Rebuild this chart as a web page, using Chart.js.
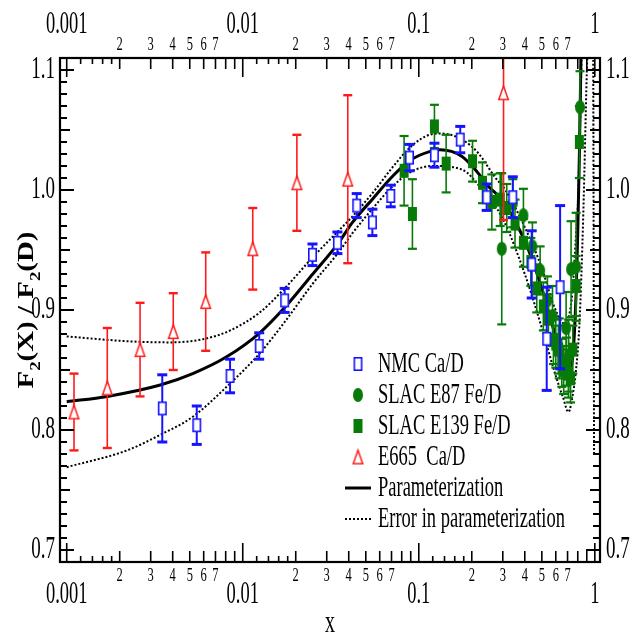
<!DOCTYPE html>
<html>
<head>
<meta charset="utf-8">
<title>F2(X)/F2(D)</title>
<script src="https://cdn.jsdelivr.net/npm/chart.js@4.4.1/dist/chart.umd.min.js"></script>
<style>
html,body{margin:0;padding:0;background:#fff;}
canvas{display:block;}
</style>
</head>
<body>
<canvas id="chart" width="634" height="635"></canvas>
<script>
// ---------------- data ----------------
const nmcX   = [0.00349, 0.00548, 0.00847, 0.0124, 0.0173, 0.0249, 0.0345, 0.0444, 0.0545, 0.0693, 0.0885, 0.1227, 0.172, 0.243, 0.342, 0.438, 0.533, 0.635];
const nmcY   = [0.818, 0.804, 0.845, 0.870, 0.908, 0.946, 0.956, 0.987, 0.973, 0.995, 1.027, 1.029, 1.042, 0.994, 0.994, 0.938, 0.876, 0.919];
const nmcErr = [0.028, 0.016, 0.014, 0.011, 0.010, 0.009, 0.009, 0.010, 0.011, 0.009, 0.011, 0.010, 0.011, 0.011, 0.017, 0.028, 0.043, 0.068];

const e87X   = [0.296, 0.342, 0.393, 0.442, 0.489, 0.538, 0.575, 0.628, 0.687, 0.710, 0.733, 0.783, 0.824];
const e87Y   = [0.951, 0.989, 0.979, 0.953, 0.933, 0.908, 0.895, 0.868, 0.885, 0.862, 0.934, 0.936, 1.069];
const e87Err = [0.063, 0.020, 0.022, 0.020, 0.020, 0.020, 0.025, 0.025, 0.030, 0.030, 0.040, 0.045, 0.030];

const e139X   = [0.0825, 0.092, 0.1227, 0.143, 0.202, 0.230, 0.260, 0.290, 0.316, 0.352, 0.393, 0.433, 0.468, 0.510, 0.545, 0.582, 0.600, 0.621, 0.649, 0.665, 0.690, 0.708, 0.728, 0.750, 0.783, 0.817];
const e139Y   = [1.016, 0.980, 1.053, 1.022, 1.024, 1.006, 0.990, 0.992, 0.985, 0.972, 0.956, 0.940, 0.918, 0.903, 0.893, 0.875, 0.872, 0.867, 0.856, 0.850, 0.857, 0.847, 0.843, 0.867, 0.920, 1.040];
const e139Err = [0.029, 0.029, 0.018, 0.024, 0.017, 0.017, 0.023, 0.022, 0.020, 0.020, 0.020, 0.020, 0.020, 0.020, 0.020, 0.020, 0.020, 0.020, 0.020, 0.020, 0.020, 0.020, 0.020, 0.020, 0.025, 0.030];

const e665X   = [0.0011, 0.0017, 0.00261, 0.00403, 0.00616, 0.0114, 0.0203, 0.0395, 0.303];
const e665Y   = [0.815, 0.835, 0.867, 0.882, 0.907, 0.951, 1.006, 1.009, 1.081];
const e665Err = [0.032, 0.050, 0.039, 0.032, 0.041, 0.034, 0.040, 0.070, 0.106];

const paramX = [0.001, 0.0017, 0.0034, 0.0052, 0.0081, 0.0125, 0.0173, 0.025, 0.035, 0.042, 0.055, 0.071, 0.09, 0.115, 0.132, 0.176, 0.209, 0.249, 0.296, 0.35, 0.42, 0.5, 0.58, 0.65, 0.70, 0.72, 0.745, 0.765, 0.783, 0.80, 0.817, 0.83, 0.84];
const paramY = [0.8236, 0.828, 0.8375, 0.847, 0.861, 0.881, 0.902, 0.930, 0.956, 0.973, 0.993, 1.0115, 1.025, 1.032, 1.0335, 1.028, 1.017, 1.003, 0.992, 0.975, 0.950, 0.918, 0.885, 0.862, 0.850, 0.849, 0.858, 0.880, 0.915, 0.965, 1.030, 1.090, 1.150];

const upperX = [0.001, 0.0022, 0.0039, 0.0061, 0.0085, 0.0125, 0.0173, 0.025, 0.035, 0.042, 0.055, 0.071, 0.09, 0.115, 0.135, 0.176, 0.217, 0.27, 0.31, 0.40, 0.50, 0.58, 0.65, 0.68, 0.72, 0.745, 0.78, 0.807, 0.836, 0.85];
const upperY = [0.878, 0.874, 0.873, 0.876, 0.883, 0.898, 0.918, 0.944, 0.966, 0.978, 0.998, 1.019, 1.036, 1.046, 1.047, 1.042, 1.031, 1.011, 1.000, 0.969, 0.935, 0.905, 0.890, 0.888, 0.898, 0.914, 0.960, 1.000, 1.094, 1.150];

const lowerX = [0.001, 0.0022, 0.0034, 0.0052, 0.0081, 0.0125, 0.0173, 0.025, 0.035, 0.042, 0.055, 0.071, 0.09, 0.12, 0.176, 0.23, 0.30, 0.40, 0.50, 0.60, 0.66, 0.708, 0.76, 0.776, 0.818, 0.86, 0.90, 0.93, 0.975, 0.99];
const lowerY = [0.769, 0.783, 0.796, 0.811, 0.836, 0.864, 0.890, 0.922, 0.948, 0.964, 0.985, 1.003, 1.015, 1.020, 1.017, 1.000, 0.976, 0.930, 0.885, 0.845, 0.827, 0.815, 0.835, 0.845, 0.889, 0.980, 1.097, 1.160, 1.160, 0.780];

// axis ticks / labels
const xDecades = [0.001, 0.01, 0.1, 1];
const xDecadeLabels = ['0.001', '0.01', '0.1', '1'];
const xSubTicks = [1.2, 1.4, 1.6, 1.8];
const xMinorTicks = [2, 3, 4, 5, 6, 7, 8, 9];
const xMinorLabels = ['2', '3', '4', '5', '6', '7'];
const yTickValues = [0.7, 0.8, 0.9, 1.0, 1.1];
const yTickLabels = ['0.7', '0.8', '0.9', '1.0', '1.1'];

const X_MIN = 0.000916, X_MAX = 1.07, Y_MIN = 0.69, Y_MAX = 1.11;

// ---------------- styling helpers ----------------
const SERIF = '"Liberation Serif","Times New Roman",Times,serif';
const BLUE = '#1414ff', GREEN = '#087a08', RED = '#ff1a1a';

function marker(kind, w, h, color, lw) {
  const pad = 2;
  const c = document.createElement('canvas');
  c.width = w + pad * 2; c.height = h + pad * 2;
  const g = c.getContext('2d');
  g.lineWidth = lw; g.strokeStyle = color; g.fillStyle = color;
  const cx = c.width / 2, cy = c.height / 2;
  if (kind === 'openRect') {
    g.fillStyle = '#fff'; g.fillRect(pad, pad, w, h);
    g.strokeRect(pad + lw / 2, pad + lw / 2, w - lw, h - lw);
  } else if (kind === 'fillRect') {
    g.fillRect(pad, pad, w, h);
  } else if (kind === 'ellipse') {
    g.beginPath(); g.ellipse(cx, cy, w / 2, h / 2, 0, 0, Math.PI * 2); g.fill();
  } else if (kind === 'openTri') {
    g.beginPath();
    g.moveTo(cx, pad + lw / 2); g.lineTo(pad + w - lw / 2, pad + h - lw / 2); g.lineTo(pad + lw / 2, pad + h - lw / 2); g.closePath();
    g.fillStyle = '#fff'; g.fill(); g.stroke();
  }
  return c;
}

const mkNMC  = marker('openRect', 9, 14, BLUE, 1.6);
const mkE87  = marker('ellipse', 10, 14, GREEN, 1);
const mkE139 = marker('fillRect', 9, 14, GREEN, 1);
const mkE665 = marker('openTri', 11, 15, RED, 1.5);

function pts(xs, ys) { return xs.map((x, i) => ({ x: x, y: ys[i] })); }

function sText(ctx, s, x, y, size, align, sy, weight) {
  ctx.save();
  ctx.translate(x, y);
  ctx.scale(1, sy);
  ctx.font = (weight || 'normal') + ' ' + size + 'px ' + SERIF;
  ctx.textAlign = align; ctx.textBaseline = 'middle';
  ctx.fillText(s, 0, 0);
  ctx.restore();
}
function seg(ctx, x1, y1, x2, y2) { ctx.beginPath(); ctx.moveTo(x1, y1); ctx.lineTo(x2, y2); ctx.stroke(); }

// ---------------- plugins ----------------
const errorBars = {
  id: 'errorBars',
  beforeDatasetDraw(chart, args) {
    const ds = chart.data.datasets[args.index];
    if (!ds.errors) return;
    const ctx = chart.ctx, a = chart.chartArea;
    const xs = chart.scales[args.meta.xAxisID], ys = chart.scales[args.meta.yAxisID];
    ctx.save();
    ctx.beginPath(); ctx.rect(a.left, a.top, a.right - a.left, a.bottom - a.top); ctx.clip();
    ctx.strokeStyle = ds.errColor;
    ds.data.forEach((p, i) => {
      const e = ds.errors[i];
      const px = xs.getPixelForValue(p.x);
      const yt = ys.getPixelForValue(p.y + e), yb = ys.getPixelForValue(p.y - e);
      ctx.lineWidth = ds.errWidth; seg(ctx, px, yt, px, yb);
      ctx.lineWidth = ds.capWidth;
      seg(ctx, px - ds.capHalf, yt, px + ds.capHalf, yt);
      seg(ctx, px - ds.capHalf, yb, px + ds.capHalf, yb);
    });
    ctx.restore();
  }
};

const frameAxes = {
  id: 'frameAxes',
  afterDraw(chart) {
    const ctx = chart.ctx, a = chart.chartArea, xs = chart.scales.x, ys = chart.scales.y;
    ctx.save();
    ctx.strokeStyle = '#000'; ctx.fillStyle = '#000';
    // x ticks (bottom + top, inward)
    ctx.lineWidth = 1.6;
    xDecades.forEach((d) => {
      const all = [[1, 19]].concat(xSubTicks.map(m => [m, 6])).concat(xMinorTicks.map(m => [m, 11]));
      all.forEach(([m, len]) => {
        const v = d * m;
        if (v < xs.min || v > xs.max) return;
        const px = xs.getPixelForValue(v);
        seg(ctx, px, a.bottom, px, a.bottom - len);
        seg(ctx, px, a.top, px, a.top + len);
      });
    });
    // y ticks (left + right, inward)
    ctx.lineWidth = 2;
    for (let k = Math.ceil(ys.min * 100 - 1e-6); k <= Math.floor(ys.max * 100 + 1e-6); k++) {
      const v = k / 100;
      const len = (k % 10 === 0) ? 14 : (k % 5 === 0 ? 10 : 7);
      const py = ys.getPixelForValue(v);
      seg(ctx, a.left, py, a.left + len, py);
      seg(ctx, a.right, py, a.right - len, py);
    }
    // frame
    ctx.lineWidth = 2.2;
    ctx.strokeRect(a.left, a.top, a.right - a.left, a.bottom - a.top);
    // x labels
    xDecades.forEach((d, i) => {
      const px = xs.getPixelForValue(d);
      sText(ctx, xDecadeLabels[i], px, a.bottom + 33, 18.5, 'center', 1.65);
      sText(ctx, xDecadeLabels[i], px, a.top - 33, 18.5, 'center', 1.65);
      xMinorLabels.forEach((lab) => {
        const v = d * Number(lab);
        if (v > xs.max) return;
        const qx = xs.getPixelForValue(v);
        sText(ctx, lab, qx, a.bottom + 14, 12.5, 'center', 1.5);
        sText(ctx, lab, qx, a.top - 13, 12.5, 'center', 1.5);
      });
    });
    // y labels
    yTickValues.forEach((v, i) => {
      const py = ys.getPixelForValue(v);
      sText(ctx, yTickLabels[i], a.left - 5, py, 19, 'right', 1.62);
      sText(ctx, yTickLabels[i], a.right + 6, py, 19, 'left', 1.62);
    });
    // x title
    sText(ctx, 'x', (a.left + a.right) / 2, 624, 20, 'center', 1.6);
    // y title, rotated, with subscripts
    const f = 23, sub = 15;
    const parts = [['F', f, 0], ['2', sub, 0.32], ['(X) / F', f, 0], ['2', sub, 0.32], ['(D)', f, 0]];
    ctx.save();
    let total = 0;
    parts.forEach(p => { ctx.font = 'bold ' + p[1] + 'px ' + SERIF; total += ctx.measureText(p[0]).width; });
    const target = 157, sx = target / total;
    ctx.translate(26, (a.top + a.bottom) / 2);
    ctx.rotate(-Math.PI / 2);
    ctx.scale(sx, 1);
    let cx = -total / 2;
    ctx.textBaseline = 'alphabetic'; ctx.textAlign = 'left';
    parts.forEach(p => {
      ctx.font = 'bold ' + p[1] + 'px ' + SERIF;
      ctx.fillText(p[0], cx, 7 + p[2] * f);
      cx += ctx.measureText(p[0]).width;
    });
    ctx.restore();
    ctx.restore();
  }
};

const innerLegend = {
  id: 'innerLegend',
  afterDraw(chart) {
    const ctx = chart.ctx;
    const items = chart.data.datasets.filter(d => d.legendRank !== undefined).sort((p, q) => p.legendRank - q.legendRank);
    const mx = 358, tx = 378, y0 = 364, dy = 31;
    ctx.save();
    items.forEach((d, i) => {
      const y = y0 + i * dy;
      if (d.pointStyle && typeof d.pointStyle === 'object') {
        ctx.drawImage(d.pointStyle, mx - d.pointStyle.width / 2, y - d.pointStyle.height / 2);
      } else {
        ctx.strokeStyle = d.borderColor; ctx.lineWidth = d.borderWidth;
        ctx.setLineDash(d.borderDash || []);
        seg(ctx, 345, y, 371, y);
        ctx.setLineDash([]);
      }
      ctx.fillStyle = '#000';
      sText(ctx, d.label, tx, y, 18.5, 'left', 1.6);
    });
    ctx.restore();
  }
};

// ---------------- chart ----------------
function pointSet(label, xs, ys, errs, style, color, ew, cw, ch, order, rank) {
  return {
    type: 'scatter', label: label, data: pts(xs, ys), errors: errs,
    pointStyle: style, pointRadius: 5, pointHoverRadius: 5,
    errColor: color, errWidth: ew, capWidth: cw, capHalf: ch,
    borderColor: color, backgroundColor: color, order: order, legendRank: rank
  };
}
function curveSet(label, xs, ys, width, dash, rank) {
  const ds = {
    type: 'line', label: label, data: pts(xs, ys), borderColor: '#000', borderWidth: width,
    pointRadius: 0, fill: false, cubicInterpolationMode: 'monotone', order: 10
  };
  if (dash) ds.borderDash = dash;
  if (rank !== undefined) ds.legendRank = rank;
  return ds;
}

new Chart(document.getElementById('chart'), {
  data: {
    datasets: [
      curveSet('Parameterization', paramX, paramY, 3, null, 4),
      curveSet('Error in parameterization', upperX, upperY, 2, [2, 2], 5),
      curveSet('Error in parameterization (lower)', lowerX, lowerY, 2, [2, 2]),
      pointSet('SLAC E139 Fe/D', e139X, e139Y, e139Err, mkE139, GREEN, 1.6, 2.2, 4.5, 4, 2),
      pointSet('SLAC E87 Fe/D', e87X, e87Y, e87Err, mkE87, GREEN, 1.6, 2.2, 4.5, 3, 1),
      pointSet('NMC Ca/D', nmcX, nmcY, nmcErr, mkNMC, BLUE, 2, 3, 5, 2, 0),
      pointSet('E665  Ca/D', e665X, e665Y, e665Err, mkE665, RED, 1.6, 2.4, 4.5, 1, 3)
    ]
  },
  options: {
    responsive: false,
    animation: false,
    devicePixelRatio: 1,
    layout: { padding: { top: 58, right: 34, left: 0, bottom: 0 } },
    plugins: { legend: { display: false }, tooltip: { enabled: false } },
    events: [],
    scales: {
      x: {
        type: 'logarithmic', min: X_MIN, max: X_MAX, position: 'bottom',
        grid: { display: false }, border: { display: false }, ticks: { display: false },
        afterFit(s) { s.height = 73; }
      },
      y: {
        type: 'linear', min: Y_MIN, max: Y_MAX, position: 'left',
        grid: { display: false }, border: { display: false }, ticks: { display: false },
        afterFit(s) { s.width = 60; }
      }
    }
  },
  plugins: [errorBars, frameAxes, innerLegend]
});
</script>
</body>
</html>
